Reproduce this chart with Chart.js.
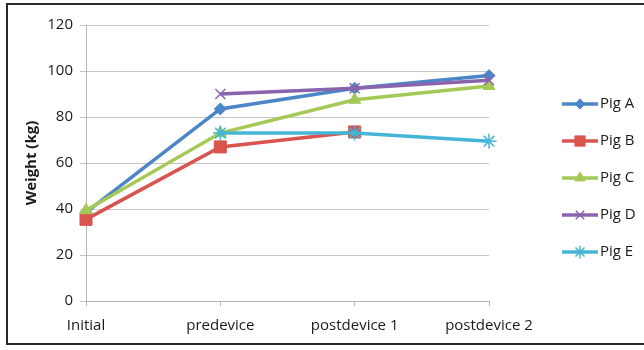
<!DOCTYPE html>
<html>
<head>
<meta charset="utf-8">
<script src="https://cdn.jsdelivr.net/npm/chart.js@4/dist/chart.umd.min.js"></script>
<style>
  html, body { margin: 0; padding: 0; background: #fff; }
  #wrap { position: relative; width: 644px; height: 350px; overflow: hidden; }
  #frame {
    position: absolute; left: 6px; top: 3px; width: 700px; height: 342px;
    border: 2px solid #2a2a2a; box-sizing: border-box;
  }
  canvas { position: absolute; left: 0; top: 0; }
</style>
</head>
<body>
<div id="wrap">
  <div id="frame"></div>
  <canvas id="c" width="644" height="350"></canvas>
</div>
<script>
// Pig weights (kg) at each stage of the trial
const stages = ['Initial', 'predevice', 'postdevice 1', 'postdevice 2'];
const pigNames = ['Pig A', 'Pig B', 'Pig C', 'Pig D', 'Pig E'];
const pigA = [38.5, 83.5, 92.5, 98];
const pigB = [35.5, 67, 73.5, null];
const pigC = [39.5, 73, 87.5, 93.5];
const pigD = [null, 90, 92.5, 96];
const pigE = [null, 73, 73, 69.5];
const yTicks = [0, 20, 40, 60, 80, 100, 120];

const FONT = '"Open Sans", "Liberation Sans", sans-serif';

const styles = [
  { color: '#4a86c8', pointStyle: 'rectRot', radius: 6,   pbw: 1 },
  { color: '#d9534f', pointStyle: 'rect',    radius: 8.5, pbw: 1 },
  { color: '#a5c956', pointStyle: 'triangle',radius: 7,   pbw: 1 },
  { color: '#8a63ad', pointStyle: 'crossRot',radius: 7,   pbw: 1.5 },
  { color: '#45b5d5', pointStyle: 'star',    radius: 7.5, pbw: 1.5 }
];
const series = [pigA, pigB, pigC, pigD, pigE];

// later pigs are painted over earlier ones
const datasets = series.map((vals, i) => ({
  label: pigNames[i],
  data: vals,
  order: series.length - i,
  borderColor: styles[i].color,
  backgroundColor: styles[i].color,
  pointBackgroundColor: styles[i].color,
  pointBorderColor: styles[i].color,
  pointStyle: styles[i].pointStyle,
  pointRadius: styles[i].radius,
  pointBorderWidth: styles[i].pbw,
  borderWidth: 3.5,
  tension: 0,
  fill: false
}));

// Legend drawn at the right: a short line with the series marker in its middle
const sideLegend = {
  id: 'sideLegend',
  afterDraw(chart) {
    const ctx = chart.ctx;
    const x0 = 562, x1 = 598, top = 104, step = 37;
    chart.data.datasets.forEach((ds, i) => {
      const y = top + i * step;
      ctx.save();
      ctx.strokeStyle = ds.borderColor;
      ctx.lineWidth = 3.5;
      ctx.beginPath();
      ctx.moveTo(x0, y);
      ctx.lineTo(x1, y);
      ctx.stroke();
      ctx.fillStyle = ds.pointBackgroundColor;
      ctx.strokeStyle = ds.pointBorderColor;
      ctx.lineWidth = ds.pointBorderWidth;
      Chart.helpers.drawPoint(ctx, {
        pointStyle: ds.pointStyle,
        rotation: 0,
        radius: ds.pointRadius * 0.85,
        borderWidth: ds.pointBorderWidth
      }, (x0 + x1) / 2, y);
      ctx.fillStyle = '#1a1a1a';
      ctx.font = '15px ' + FONT;
      ctx.textBaseline = 'middle';
      ctx.textAlign = 'left';
      ctx.fillText(ds.label, x1 + 2, y);
      ctx.restore();
    });
  }
};

new Chart(document.getElementById('c'), {
  type: 'line',
  data: { labels: stages, datasets },
  plugins: [sideLegend],
  options: {
    responsive: false,
    animation: false,
    devicePixelRatio: 1,
    layout: { padding: { left: 18, top: 25, right: 155, bottom: 8 } },
    plugins: {
      legend: { display: false },
      tooltip: { enabled: false }
    },
    scales: {
      x: {
        offset: false,
        grid: {
          drawOnChartArea: false,
          drawTicks: true,
          tickLength: 5,
          color: '#b5b5b5'
        },
        border: { color: '#b5b5b5', width: 1 },
        ticks: {
          color: '#1a1a1a',
          font: { family: FONT, size: 15 },
          padding: 11,
          maxRotation: 0,
          autoSkip: false
        },
        afterFit(scale) { scale.height = 41; }
      },
      y: {
        min: 0,
        max: 120,
        afterBuildTicks(scale) { scale.ticks = yTicks.map(v => ({ value: v })); },
        grid: {
          color: '#c4c4c4',
          tickLength: 6,
          drawTicks: true
        },
        border: { color: '#b5b5b5', width: 1 },
        ticks: {
          color: '#1a1a1a',
          font: { family: FONT, size: 15 },
          padding: 7
        },
        title: {
          display: true,
          text: 'Weight (kg)',
          color: '#1a1a1a',
          font: { family: FONT, size: 15, weight: 'bold' },
          padding: { top: 5, bottom: 4 }
        },
        afterFit(scale) { scale.width = 68; }
      }
    }
  }
});
</script>
</body>
</html>
